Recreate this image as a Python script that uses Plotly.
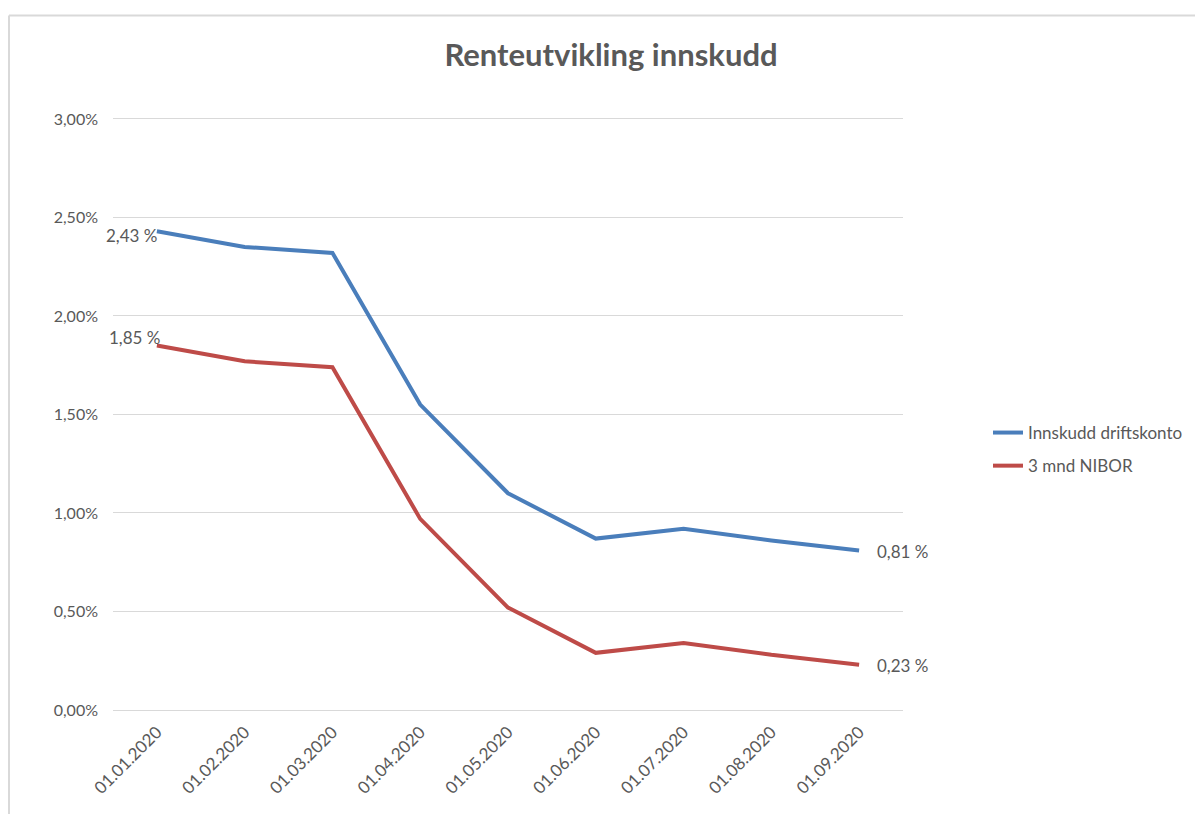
import plotly.graph_objects as go

dates = ["01.01.2020", "01.02.2020", "01.03.2020", "01.04.2020", "01.05.2020",
         "01.06.2020", "01.07.2020", "01.08.2020", "01.09.2020"]
innskudd = [2.43, 2.35, 2.32, 1.55, 1.10, 0.87, 0.92, 0.86, 0.81]
nibor = [1.85, 1.77, 1.74, 0.97, 0.52, 0.29, 0.34, 0.28, 0.23]
series_names = ["Innskudd driftskonto", "3 mnd NIBOR"]
colors = ["#4A7EBB", "#BE4B48"]
y_ticks = [0.0, 0.5, 1.0, 1.5, 2.0, 2.5, 3.0]
y_tick_labels = ["0,00%", "0,50%", "1,00%", "1,50%", "2,00%", "2,50%", "3,00%"]

FONT = "Lato, 'Open Sans', sans-serif"
GRAY = "#595959"

# page has an 8px body margin; figure coordinates = reference pixels - 8
W, H = 1195, 806
L, R, T, B = 105, 895, 105, 702
PW, PH = R - L, B - T

def px(x):
    return (x - L) / PW

def py(y):
    return (B - y) / PH

def lab(v):
    return f"{v:.2f} %".replace(".", ",")

fig = go.Figure()
for name, vals, col in zip(series_names, [innskudd, nibor], colors):
    fig.add_trace(go.Scatter(x=dates, y=vals, mode="lines", name=name, legendgroup=name,
                             line=dict(color=col, width=4), hoverinfo="skip"))

annotations = [
    dict(x=dates[0], y=innskudd[0], text=lab(innskudd[0]), xanchor="right", yanchor="middle",
         xshift=2, yshift=-4),
    dict(x=dates[0], y=nibor[0], text=lab(nibor[0]), xanchor="center", yanchor="bottom",
         xshift=-22, yshift=-4),
    dict(x=dates[-1], y=innskudd[-1], text=lab(innskudd[-1]), xanchor="left", yanchor="middle",
         xshift=16, yshift=-1),
    dict(x=dates[-1], y=nibor[-1], text=lab(nibor[-1]), xanchor="left", yanchor="middle",
         xshift=16, yshift=-1),
]
for a in annotations:
    a.update(xref="x", yref="y", showarrow=False, font=dict(family=FONT, size=17, color=GRAY))

fig.update_layout(
    width=W, height=H,
    margin=dict(l=L, r=W - R, t=T, b=H - B),
    paper_bgcolor="white", plot_bgcolor="white",
    font=dict(family=FONT, size=15, color=GRAY),
    title=dict(text="<b>Renteutvikling innskudd</b>", x=603 / W, xanchor="center",
               y=1 - 47 / H, yanchor="middle",
               font=dict(family=FONT, size=31, color=GRAY)),
    xaxis=dict(type="category", range=[-0.5, 8.5], tickangle=-45, showgrid=False,
               showline=False, ticks="", ticklabelstandoff=8,
               tickfont=dict(family=FONT, size=17, color=GRAY),
               fixedrange=True),
    yaxis=dict(range=[0, 3.03], tickvals=y_ticks, ticktext=y_tick_labels,
               showgrid=True, gridcolor="#D9D9D9", gridwidth=1, zeroline=True,
               zerolinecolor="#D9D9D9", zerolinewidth=1, showline=False, ticks="",
               ticklabelstandoff=14, tickfont=dict(family=FONT, size=16, color=GRAY),
               fixedrange=True),
    legend=dict(x=px(980), y=py(441.5), xanchor="left", yanchor="middle",
                font=dict(family=FONT, size=17, color=GRAY), tracegroupgap=8,
                traceorder="grouped", bgcolor="rgba(0,0,0,0)"),
    annotations=annotations,
    hovermode=False,
    shapes=[
        dict(type="line", xref="paper", yref="paper",
             x0=px(1), x1=px(1195), y0=py(7.5), y1=py(7.5),
             line=dict(color="#D9D9D9", width=2)),
        dict(type="line", xref="paper", yref="paper",
             x0=px(1), x1=px(1), y0=py(7.5), y1=py(806),
             line=dict(color="#D9D9D9", width=2)),
    ],
)

fig.write_html("out.html")
